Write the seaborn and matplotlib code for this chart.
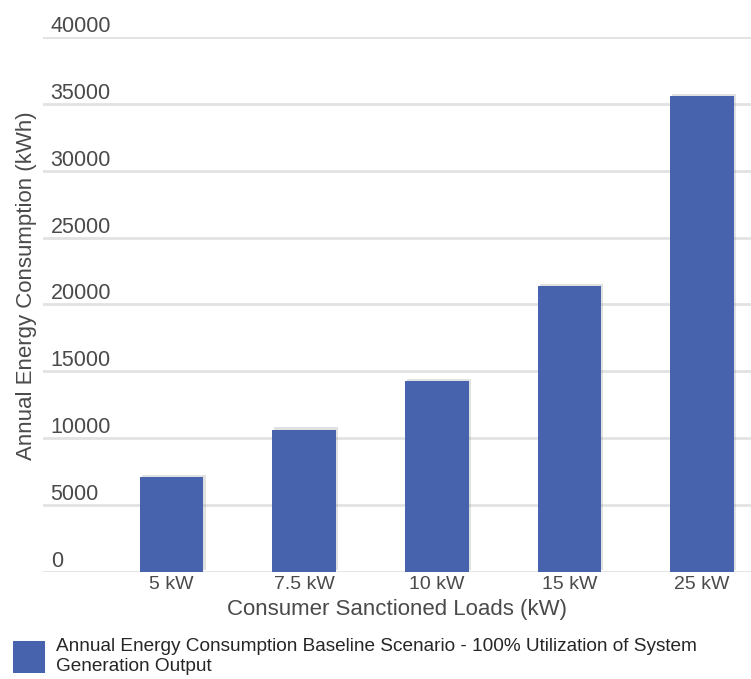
import matplotlib
matplotlib.use("Agg")
import matplotlib.pyplot as plt
import matplotlib.transforms as mtransforms
import matplotlib.patheffects as pe
from matplotlib.patches import Patch
import pandas as pd
import seaborn as sns

# data
loads = ["5 kW", "7.5 kW", "10 kW", "15 kW", "25 kW"]
consumption = [7100, 10650, 14250, 21350, 35600]
y_ticks = [0, 5000, 10000, 15000, 20000, 25000, 30000, 35000, 40000]
legend_label = "Annual Energy Consumption Baseline Scenario - 100% Utilization of System\nGeneration Output"

df = pd.DataFrame({"load": loads, "kwh": consumption})

sns.set_theme(style="white")
plt.rcParams["font.family"] = ["Liberation Sans", "DejaVu Sans"]

bar_color = "#4863ad"
text_color = "#4a4a4a"

fig = plt.figure(figsize=(7.51, 6.79), dpi=100)
ax = fig.add_axes([43 / 751, 1 - 572 / 679, 1 - 43 / 751, 535 / 679])

sns.barplot(data=df, x="load", y="kwh", order=loads, color=bar_color,
            width=0.48, saturation=1, ax=ax, zorder=3)
for bar in ax.patches:
    bar.set_edgecolor("none")
    bar.set_path_effects([pe.SimplePatchShadow(offset=(1.5, 1.5), shadow_rgbFace="#888888", alpha=0.25),
                          pe.Normal()])

ax.set_ylim(0, 40000)
ax.set_xlim(-0.97, 4.37)
ax.set_yticks(y_ticks)
ax.set_yticklabels([str(v) for v in y_ticks])
ax.grid(axis="y", color="#e2e2e2", linewidth=2, zorder=0)
ax.grid(axis="x", visible=False)
for s in ax.spines.values():
    s.set_visible(False)

# y tick labels sit inside the plot, just above their gridlines
ax.tick_params(axis="y", length=0, pad=-5.5, labelsize=15.5, labelcolor=text_color)
offset = mtransforms.ScaledTranslation(0, 0, fig.dpi_scale_trans)
for lab in ax.get_yticklabels():
    lab.set_horizontalalignment("left")
    lab.set_verticalalignment("bottom")
    lab.set_transform(lab.get_transform() + offset)

ax.tick_params(axis="x", length=0, pad=3, labelsize=14, labelcolor=text_color)

ax.set_xlabel("Consumer Sanctioned Loads (kW)", fontsize=16, color=text_color, labelpad=4)
ax.set_ylabel("Annual Energy Consumption (kWh)", fontsize=16, color=text_color)
ax.yaxis.set_label_coords(-0.008, 0.536)

handle = Patch(facecolor=bar_color, edgecolor="none")
fig.legend([handle], [legend_label], loc="lower left", bbox_to_anchor=(13 / 751, 0.0065),
           frameon=False, handlelength=1.7, handleheight=2.2,
           handletextpad=0.55, labelspacing=0, borderpad=0, borderaxespad=0,
           prop={"family": ["Liberation Sans", "DejaVu Sans"], "size": 13.7})

fig.savefig("out.png", dpi=100)
